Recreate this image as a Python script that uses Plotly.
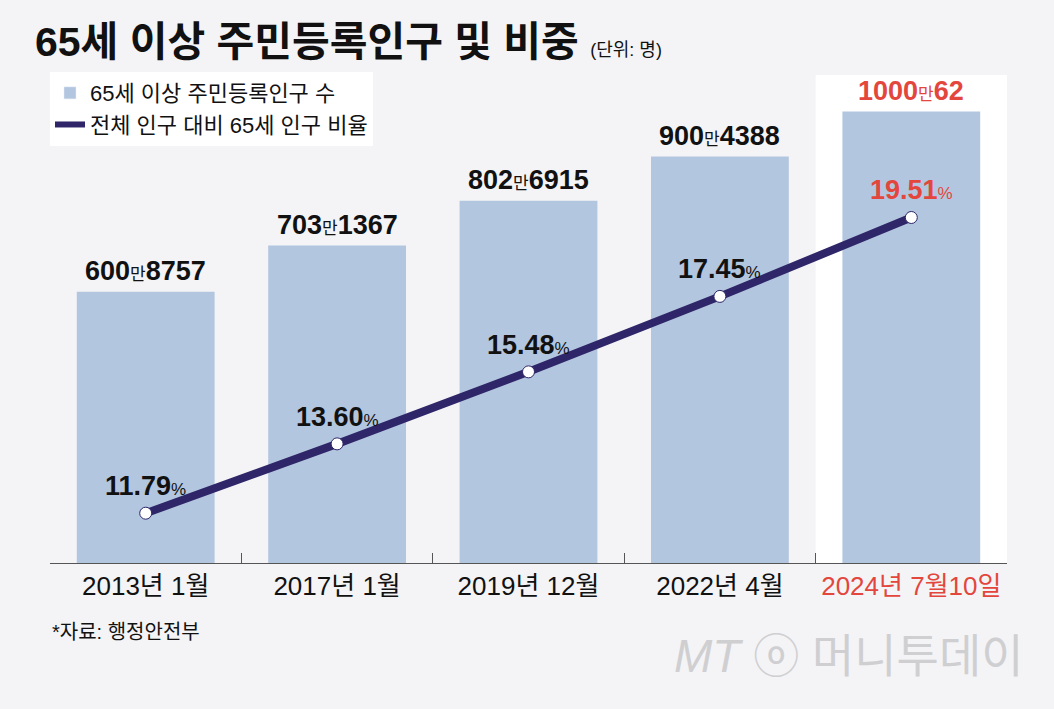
import plotly.graph_objects as go

# 데이터
categories = ["2013년 1월", "2017년 1월", "2019년 12월", "2022년 4월", "2024년 7월10일"]
population = [6008757, 7031367, 8026915, 9004388, 10000062]   # 명
ratio = [11.79, 13.60, 15.48, 17.45, 19.51]                  # %

COLOR_BAR = '#b3c6df'
COLOR_LINE = '#2e2668'
COLOR_RED = '#e3463c'
COLOR_BG = '#f4f4f6'
FONT = "Liberation Sans, Arial, Noto Sans CJK KR"

pop_man = [p / 10000 for p in population]

def fmt_pop(p):
    return f"<b>{p // 10000}</b><span style='font-size:17px'>만</span><b>{p % 10000}</b>"

fig = go.Figure()

# 막대: 주민등록인구 수
fig.add_trace(go.Bar(
    x=categories, y=pop_man,
    marker=dict(color=COLOR_BAR, line=dict(width=0)),
    width=0.72, showlegend=False, hoverinfo='skip'
))

# 선: 비율
fig.add_trace(go.Scatter(
    x=categories, y=ratio, yaxis='y2',
    mode='lines+markers',
    line=dict(color=COLOR_LINE, width=8),
    marker=dict(size=12, color='white', line=dict(color=COLOR_LINE, width=1)),
    showlegend=False, hoverinfo='skip', cliponaxis=False
))

# 범례용
fig.add_trace(go.Bar(x=[None], y=[None], marker=dict(color=COLOR_BAR),
                     name="65세 이상 주민등록인구 수"))
fig.add_trace(go.Scatter(x=[None], y=[None], mode='lines',
                         line=dict(color=COLOR_LINE, width=6),
                         name="전체 인구 대비 65세 인구 비율"))

# 라벨
for i, cat in enumerate(categories):
    color = COLOR_RED if i == len(categories) - 1 else '#111111'
    fig.add_annotation(x=cat, y=pop_man[i], xref='x', yref='y',
                       text=fmt_pop(population[i]), showarrow=False,
                       yanchor='bottom', yshift=4,
                       font=dict(family=FONT, size=27, color=color))
    fig.add_annotation(x=cat, y=ratio[i], xref='x', yref='y2',
                       text=f"<b>{ratio[i]:.2f}</b><span style='font-size:17px'>%</span>",
                       showarrow=False, yanchor='bottom', yshift=10,
                       font=dict(family=FONT, size=27, color=color))

# 마지막 항목 강조 배경
fig.add_shape(type='rect', xref='x', yref='paper',
              x0=len(categories) - 1.5, x1=len(categories) - 0.5, y0=0, y1=1,
              fillcolor='white', line=dict(width=0), layer='below')

ticktext = categories[:-1] + [f"<span style='color:{COLOR_RED}'>{categories[-1]}</span>"]

fig.update_layout(
    width=1054, height=709,
    margin=dict(l=50, r=47, t=75, b=146),
    paper_bgcolor=COLOR_BG, plot_bgcolor=COLOR_BG,
    font=dict(family=FONT, color='#111111'),
    title=dict(
        text="<b>65세 이상 주민등록인구 및 비중</b> <span style='font-size:18px'>(단위: 명)</span>",
        x=35 / 1054, xanchor='left', xref='container',
        y=1 - 42 / 709, yanchor='middle', yref='container',
        font=dict(family=FONT, size=41, color='#111111')
    ),
    legend=dict(
        x=0, y=1.006, xanchor='left', yanchor='top',
        bgcolor='white', font=dict(family=FONT, size=22, color='#111111'),
        traceorder='normal', itemwidth=30, borderwidth=0,
    ),
    xaxis=dict(
        type='category', tickmode='array', tickvals=categories, ticktext=ticktext,
        tickson='boundaries', ticks='inside', ticklen=10, tickcolor='#555555',
        showline=True, linecolor='#555555', linewidth=1,
        showgrid=False, zeroline=False,
        tickfont=dict(family=FONT, size=26, color='#111111'),
        range=[-0.5, len(categories) - 0.5],
    ),
    yaxis=dict(range=[0, 1081], visible=False, showgrid=False),
    yaxis2=dict(range=[10.49, 23.23], overlaying='y', visible=False, showgrid=False),
    bargap=0.28,
)

fig.add_annotation(xref='paper', yref='paper', x=0, y=-0.141,
                   text="*자료: 행정안전부", showarrow=False,
                   xanchor='left', yanchor='middle',
                   font=dict(family=FONT, size=20, color='#111111'))
fig.add_annotation(xref='paper', yref='paper', x=1.02, y=-0.19,
                   text="<i>MT</i> ⓞ 머니투데이", showarrow=False,
                   xanchor='right', yanchor='middle',
                   font=dict(family=FONT, size=46, color='#cfcfd2'))

fig.write_html("out.html", config={'displayModeBar': False},
               post_script="document.body.style.margin='0';")
